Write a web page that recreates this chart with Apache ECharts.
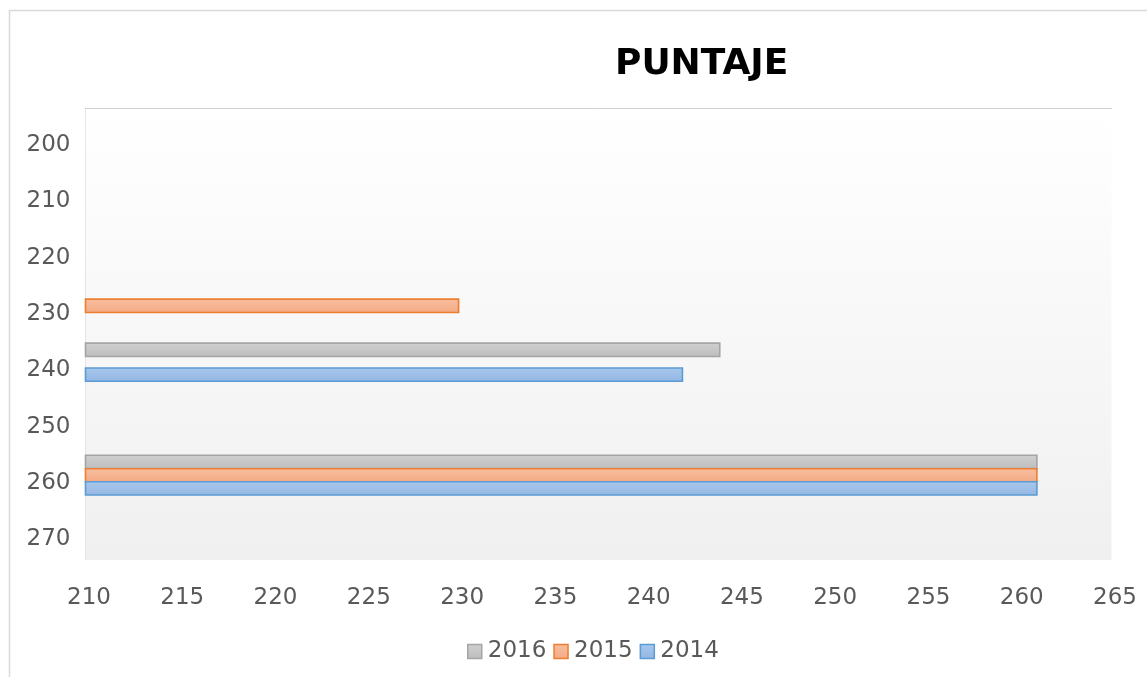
<!DOCTYPE html>
<html>
<head>
<meta charset="utf-8">
<style>
html,body{margin:0;padding:0;background:#fff;}
#chart{width:1147px;height:677px;}
</style>
<script src="https://cdn.jsdelivr.net/npm/echarts@6/dist/echarts.min.js"></script>
</head>
<body>
<div id="chart"></div>
<script>
// ---- data ----
const title = 'PUNTAJE';
const seriesNames = ['2016', '2015', '2014'];
// each point: [score (bar length), position on vertical axis]
const values2016 = [[244, 236.9], [261, 256.8]];
const values2015 = [[230, 229.1], [261, 259.2]];
const values2014 = [[242, 241.3], [261, 261.5]];
const xTicks = { min: 210, max: 265, step: 5 };
const yTicks = { min: 194, max: 274.2, step: 10 };

// ---- styles ----
const FONT = 'DejaVu Sans';
const TEXT = '#595959';
const styles = {
  '2016': { top: '#d0d0d0', bottom: '#bdbdbd', border: '#a5a5a5' },
  '2015': { top: '#f8bfa0', bottom: '#f4a983', border: '#ed7d31' },
  '2014': { top: '#a9c8ec', bottom: '#92b6e3', border: '#5b9bd5' }
};
const BAR_THICK = 2.36; // in vertical-axis units

function grad(s) {
  return new echarts.graphic.LinearGradient(0, 0, 0, 1, [
    { offset: 0, color: s.top }, { offset: 1, color: s.bottom }
  ]);
}

function renderItem(params, api) {
  const name = seriesNames[params.seriesIndex];
  const s = styles[name];
  const pos = api.value(1);
  const start = api.coord([xTicks.min, pos]);
  const end = api.coord([api.value(0), pos]);
  const h = api.size([0, BAR_THICK])[1];
  return {
    type: 'rect',
    shape: { x: start[0], y: start[1] - h / 2, width: end[0] - start[0], height: h },
    style: { fill: grad(s), stroke: s.border, lineWidth: 1.6 }
  };
}

const dataMap = { '2016': values2016, '2015': values2015, '2014': values2014 };

const chart = echarts.init(document.getElementById('chart'), null, { renderer: 'canvas' });
chart.setOption({
  animation: false,
  backgroundColor: '#ffffff',
  textStyle: { fontFamily: FONT },
  graphic: [{
    type: 'rect', silent: true, z: -10,
    shape: { x: 9.5, y: 10.5, width: 1200, height: 700 },
    style: { fill: 'none', stroke: '#d9d9d9', lineWidth: 1.5 }
  }],
  title: {
    text: title,
    left: 610, top: 42,
    textStyle: { fontFamily: FONT, fontWeight: 'bold', fontSize: 36, color: '#000' }
  },
  legend: {
    bottom: 9, left: 462,
    itemWidth: 14, itemHeight: 14, itemGap: 7,
    icon: 'rect',
    textStyle: { fontFamily: FONT, fontSize: 23, color: TEXT, padding: [0, 0, 0, 1] },
    data: seriesNames.map(n => ({
      name: n,
      itemStyle: { color: grad(styles[n]), borderColor: styles[n].border, borderWidth: 1.5 }
    }))
  },
  grid: {
    left: 85.5, right: 35.5, top: 108, bottom: 117,
    show: true, borderWidth: 0,
    backgroundColor: new echarts.graphic.LinearGradient(0, 0, 0, 1, [
      { offset: 0, color: '#ffffff' }, { offset: 1, color: '#f0f0f0' }
    ])
  },
  xAxis: [{
    type: 'value', min: xTicks.min, max: xTicks.max, interval: xTicks.step,
    axisLine: { show: false }, axisTick: { show: false }, splitLine: { show: false },
    axisLabel: { fontFamily: FONT, fontSize: 23, color: TEXT, margin: 27, padding: [0, 0, 0, 7] }
  }, {
    type: 'value', position: 'top', min: xTicks.min, max: xTicks.max,
    axisLine: { show: true, onZero: false, lineStyle: { color: '#d0d0d0', width: 1 } },
    axisTick: { show: false }, splitLine: { show: false }, axisLabel: { show: false }
  }],
  yAxis: {
    type: 'value', inverse: true, min: yTicks.min, max: yTicks.max,
    minInterval: yTicks.step, maxInterval: yTicks.step, splitNumber: 8,
    axisLine: { show: true, onZero: false, lineStyle: { color: '#e6e6e6', width: 1 } },
    axisTick: { show: false }, splitLine: { show: false },
    axisLabel: {
      fontFamily: FONT, fontSize: 23, color: TEXT, margin: 15,
      showMinLabel: false, showMaxLabel: false,
      formatter: v => (Math.abs(v % yTicks.step) < 1e-6 ? '{v|' + v + '}' : ''),
      rich: { v: { fontFamily: FONT, fontSize: 23, color: TEXT, padding: [6, 0, 0, 0] } }
    }
  },
  series: seriesNames.map(n => ({
    name: n,
    type: 'custom',
    renderItem: renderItem,
    itemStyle: { color: styles[n].bottom, borderColor: styles[n].border },
    encode: { x: 0, y: 1 },
    data: dataMap[n]
  }))
});
</script>
</body>
</html>
